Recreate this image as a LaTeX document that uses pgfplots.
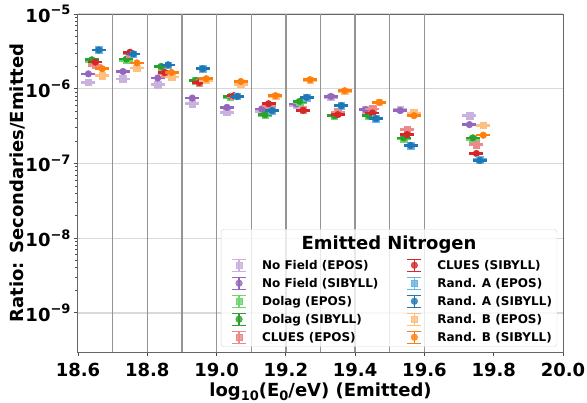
\documentclass[border=0pt]{standalone}
\usepackage{pgfplots}
\pgfplotsset{compat=1.18}
\usepackage{fontspec}
\setmainfont{DejaVu Sans}
\definecolor{cP}{HTML}{9467BD}\definecolor{cPl}{HTML}{C9B3DE}
\definecolor{cG}{HTML}{2CA02C}\definecolor{cGl}{HTML}{6FD66F}
\definecolor{cR}{HTML}{D62728}\definecolor{cRl}{HTML}{EC8A8A}
\definecolor{cB}{HTML}{1F77B4}\definecolor{cBl}{HTML}{6AB4E6}
\definecolor{cO}{HTML}{FF7F0E}\definecolor{cOl}{HTML}{FFBF80}
\newcommand{\tp}[1]{10\raisebox{0.42em}{\fontsize{13bp}{13bp}\selectfont\bfseries −#1}}
\newcommand{\ser}[3]{%
 \addplot[forget plot, only marks, color=#1, mark=-, mark size=7bp, mark options={line width=2.6bp}] coordinates {#3};
 \addplot[forget plot, only marks, color=#1, mark=#2, mark size=3.3bp, mark options={fill=#1, draw=#1, line width=0.5bp}] coordinates {#3};
}
\begin{document}
\begin{tikzpicture}
\begin{axis}[name=ax, scale only axis, width=485bp, height=338bp,
 xmin=18.6, xmax=20.0, ymode=log, ymin=3e-10, ymax=1e-5,
 xtick={18.6,18.8,19.0,19.2,19.4,19.6,19.8,20.0},
 xticklabels={18.6,18.8,19.0,19.2,19.4,19.6,19.8,20.0},
 ytick={1e-9,1e-8,1e-7,1e-6,1e-5},
 yticklabels={\tp{9},\tp{8},\tp{7},\tp{6},\tp{5}},
 ticklabel style={font=\fontsize{18bp}{20bp}\selectfont\bfseries},
 xticklabel style={yshift=-4bp},
 tick align=outside, xtick pos=bottom, ytick pos=left,
 major tick length=4bp, minor tick length=2.5bp,
 tick style={black!70, line width=0.9bp},
 axis line style={black!60, line width=1bp},
 ymajorgrids, grid style={black!15, line width=1.2bp},
 extra x ticks={18.7,18.8,18.9,19.0,19.1,19.2,19.3,19.4,19.5,19.6},
 extra x tick labels={},
 extra x tick style={grid=major, major grid style={black!42, line width=1.4bp}, major tick length=0pt},
 xlabel={log\raisebox{-0.22em}{\fontsize{13bp}{13bp}\selectfont\bfseries 10}(E\raisebox{-0.22em}{\fontsize{13bp}{13bp}\selectfont\bfseries 0}/eV) (Emitted)},
 ylabel={Ratio: Secondaries/Emitted},
 label style={font=\fontsize{18bp}{20bp}\selectfont\bfseries},
 xlabel style={at={(axis description cs:0.5,-0.117)}, anchor=center},
 ylabel style={at={(axis description cs:-0.124,0.5)}, anchor=center},
 legend columns=2, legend cell align=left,
 legend style={name=leg, at={(axis description cs:0.988,0.015)}, anchor=south east,
   draw=black!15, fill=white, fill opacity=0.8, text opacity=1, rounded corners=3bp,
   font=\fontsize{12bp}{14bp}\selectfont\bfseries, row sep=3bp,
   /tikz/every even column/.append style={column sep=19bp}},
 legend image code/.code={%
   \path[draw=none, fill=none] (0bp,-7.5bp) rectangle (36bp,7.5bp);
   \draw[mark=none, line width=1.3bp] (15bp,-6bp) -- (15bp,6bp) (8bp,-6bp) -- (22bp,-6bp) (8bp,6bp) -- (22bp,6bp);
   \draw plot coordinates {(15bp,0bp)};
 },
]
% No Field
\ser{cPl}{square*}{(18.63,1.22e-6)(18.73,1.35e-6)(18.83,1.13e-6)(18.93,6.3e-7)(19.03,4.85e-7)(19.13,5.0e-7)(19.23,6.0e-7)(19.33,7.7e-7)(19.43,5.2e-7)(19.53,5.3e-7)(19.73,4.36e-7)}
\ser{cP}{*}{(18.63,1.58e-6)(18.73,1.70e-6)(18.83,1.39e-6)(18.93,7.5e-7)(19.03,5.64e-7)(19.13,5.36e-7)(19.23,6.25e-7)(19.33,7.9e-7)(19.43,5.25e-7)(19.53,5.09e-7)(19.73,3.31e-7)}
% Dolag
\ser{cGl}{square*}{(18.64,2.3e-6)(18.74,2.4e-6)(18.84,1.95e-6)(18.94,1.27e-6)(19.04,7.7e-7)(19.14,4.4e-7)(19.24,6.6e-7)(19.34,4.3e-7)(19.44,4.3e-7)(19.54,2.15e-7)(19.74,2.1e-7)}
\ser{cG}{*}{(18.64,2.44e-6)(18.74,2.5e-6)(18.84,1.99e-6)(18.94,1.29e-6)(19.04,7.9e-7)(19.14,4.5e-7)(19.24,6.78e-7)(19.34,4.36e-7)(19.44,4.36e-7)(19.54,2.2e-7)(19.74,2.2e-7)}
% CLUES
\ser{cRl}{square*}{(18.65,2.05e-6)(18.75,2.9e-6)(18.85,1.6e-6)(18.95,1.2e-6)(19.05,7.9e-7)(19.15,5.9e-7)(19.25,5.2e-7)(19.35,4.9e-7)(19.45,5.36e-7)(19.55,2.84e-7)(19.75,1.79e-7)}
\ser{cR}{*}{(18.65,2.27e-6)(18.75,3.08e-6)(18.85,1.65e-6)(18.95,1.21e-6)(19.05,8.07e-7)(19.15,6.3e-7)(19.25,5.14e-7)(19.35,4.5e-7)(19.45,4.74e-7)(19.55,2.44e-7)(19.75,1.36e-7)}
% Rand. A
\ser{cBl}{square*}{(18.66,3.3e-6)(18.76,2.9e-6)(18.86,2.07e-6)(18.96,1.85e-6)(19.06,7.9e-7)(19.16,5.1e-7)(19.26,7.6e-7)(19.36,5.9e-7)(19.46,4.0e-7)(19.56,1.74e-7)(19.76,1.12e-7)}
\ser{cB}{*}{(18.66,3.3e-6)(18.76,2.93e-6)(18.86,2.09e-6)(18.96,1.85e-6)(19.06,7.9e-7)(19.16,5.09e-7)(19.26,7.66e-7)(19.36,5.93e-7)(19.46,3.98e-7)(19.56,1.74e-7)(19.76,1.1e-7)}
% Rand. B
\ser{cOl}{square*}{(18.67,1.49e-6)(18.77,1.89e-6)(18.87,1.43e-6)(18.97,1.3e-6)(19.07,1.15e-6)(19.17,7.9e-7)(19.27,1.3e-6)(19.37,9.2e-7)(19.47,6.6e-7)(19.57,4.74e-7)(19.77,3.24e-7)}
\ser{cO}{*}{(18.67,1.85e-6)(18.77,2.22e-6)(18.87,1.65e-6)(18.97,1.36e-6)(19.07,1.25e-6)(19.17,8.07e-7)(19.27,1.32e-6)(19.37,9.4e-7)(19.47,6.58e-7)(19.57,4.36e-7)(19.77,2.39e-7)}
% legend
\addlegendimage{empty legend}\addlegendentry{\rule{0pt}{18bp}}
\addlegendimage{empty legend}\addlegendentry{}
\addlegendimage{cPl, mark=square*, mark size=3.3bp}\addlegendentry{No Field (EPOS)}
\addlegendimage{cR, mark=*, mark size=3.3bp}\addlegendentry{CLUES (SIBYLL)}
\addlegendimage{cP, mark=*, mark size=3.3bp}\addlegendentry{No Field (SIBYLL)}
\addlegendimage{cBl, mark=square*, mark size=3.3bp}\addlegendentry{Rand. A (EPOS)}
\addlegendimage{cGl, mark=square*, mark size=3.3bp}\addlegendentry{Dolag (EPOS)}
\addlegendimage{cB, mark=*, mark size=3.3bp}\addlegendentry{Rand. A (SIBYLL)}
\addlegendimage{cG, mark=*, mark size=3.3bp}\addlegendentry{Dolag (SIBYLL)}
\addlegendimage{cOl, mark=square*, mark size=3.3bp}\addlegendentry{Rand. B (EPOS)}
\addlegendimage{cRl, mark=square*, mark size=3.3bp}\addlegendentry{CLUES (EPOS)}
\addlegendimage{cO, mark=*, mark size=3.3bp}\addlegendentry{Rand. B (SIBYLL)}
\end{axis}
\node[anchor=north, font=\fontsize{18bp}{20bp}\selectfont\bfseries] at ([yshift=-3bp]leg.north) {Emitted Nitrogen};
\pgfresetboundingbox
\path ([shift={(-78bp,-51bp)}]ax.south west) rectangle ([shift={(24bp,14bp)}]ax.north east);
\end{tikzpicture}
\end{document}
